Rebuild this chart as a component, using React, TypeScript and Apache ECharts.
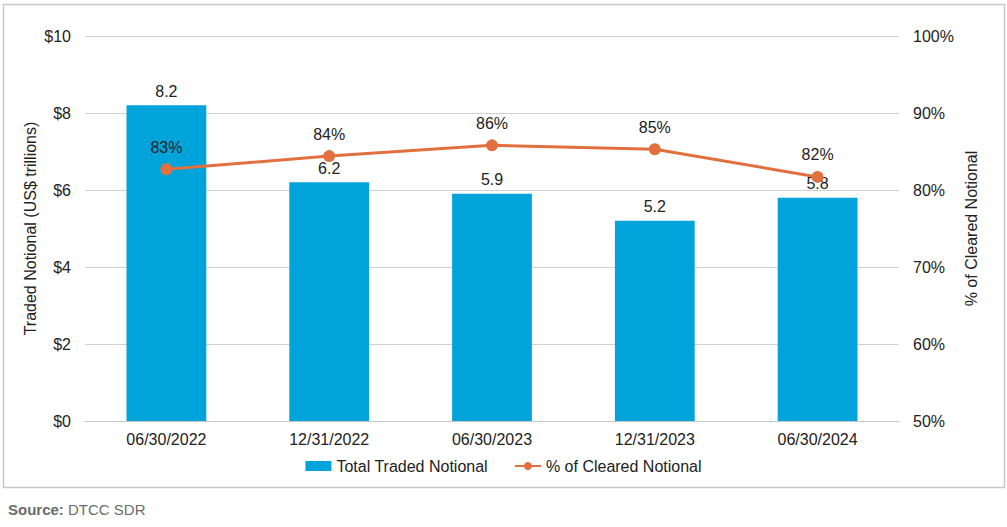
import React, { useEffect, useRef } from "react";
import * as echarts from "echarts";

const categories = ["06/30/2022", "12/31/2022", "06/30/2023", "12/31/2023", "06/30/2024"];
const tradedNotional = [8.2, 6.2, 5.9, 5.2, 5.8];
const clearedPct = [82.7, 84.4, 85.8, 85.3, 81.7];
const clearedLabels = ["83%", "84%", "86%", "85%", "82%"];

const FONT = "Liberation Sans";
const FS = 16;

export default function App() {
  const ref = useRef<HTMLDivElement>(null);
  useEffect(() => {
    document.body.style.margin = "0";
    const chart = echarts.init(ref.current!, null, { renderer: "svg" });
    chart.setOption({
      animation: false,
      backgroundColor: "#ffffff",
      textStyle: { fontFamily: FONT },
      grid: { left: 85, right: 108, top: 36, bottom: 106 },
      legend: {
        bottom: 48,
        left: "center",
        itemGap: 26,
        itemWidth: 26,
        itemHeight: 10,
        textStyle: { fontSize: FS, color: "#222", fontFamily: FONT },
        data: [
          { name: "Total Traded Notional", icon: "rect" },
          { name: "% of Cleared Notional" },
        ],
      },
      graphic: [
        {
          type: "rect",
          shape: { x: 3.5, y: 4.5, width: 1001, height: 483 },
          style: { fill: "none", stroke: "#c8c8c8", lineWidth: 1.5 },
          silent: true,
        },
        {
          type: "text",
          x: 8,
          y: 502,
          style: {
            text: "{b|Source:} DTCC SDR",
            fontFamily: FONT,
            fontSize: 15,
            fill: "#6b6b6b",
            rich: { b: { fontWeight: "bold", fontSize: 15, fill: "#6b6b6b", fontFamily: FONT } },
          },
        },
      ],
      xAxis: {
        type: "category",
        data: categories,
        axisLine: { lineStyle: { color: "#c8c8c8" } },
        axisTick: { show: false },
        axisLabel: { fontSize: FS, color: "#222", margin: 10 },
      },
      yAxis: [
        {
          type: "value",
          min: 0,
          max: 10,
          interval: 2,
          name: "Traded Notional (US$ trillions)",
          nameLocation: "middle",
          nameGap: 47,
          nameMoveOverlap: false,
          nameTextStyle: { fontSize: FS, color: "#222" },
          axisLine: { show: false },
          axisTick: { show: false },
          axisLabel: { fontSize: FS, color: "#222", margin: 14, formatter: (v: number) => "$" + v },
          splitLine: { lineStyle: { color: "#d0d0d0" } },
        },
        {
          type: "value",
          min: 50,
          max: 100,
          interval: 10,
          name: "% of Cleared Notional",
          nameLocation: "middle",
          nameGap: 64,
          nameMoveOverlap: false,
          nameTextStyle: { fontSize: FS, color: "#222" },
          axisLine: { show: false },
          axisTick: { show: false },
          axisLabel: { fontSize: FS, color: "#222", margin: 14, formatter: (v: number) => v + "%" },
          splitLine: { show: false },
        },
      ],
      series: [
        {
          name: "Total Traded Notional",
          type: "bar",
          data: tradedNotional,
          barWidth: "49%",
          itemStyle: { color: "#00a3da" },
          label: { show: true, position: "top", fontSize: FS, color: "#222", distance: 6 },
        },
        {
          name: "% of Cleared Notional",
          type: "line",
          yAxisIndex: 1,
          data: clearedPct,
          symbol: "circle",
          symbolSize: 12,
          lineStyle: { color: "#e2703f", width: 3 },
          itemStyle: { color: "#e2703f" },
          label: {
            show: true,
            position: "top",
            distance: 8,
            fontSize: FS,
            color: "#222",
            formatter: (p: any) => clearedLabels[p.dataIndex],
          },
        },
      ],
    });
    return () => chart.dispose();
  }, []);
  return <div ref={ref} style={{ width: 1007, height: 527 }} />;
}
